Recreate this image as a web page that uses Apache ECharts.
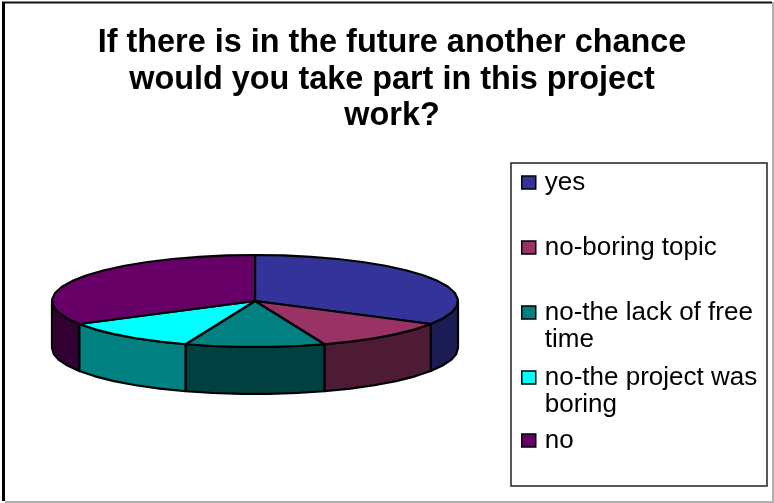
<!DOCTYPE html>
<html>
<head>
<meta charset="utf-8">
<style>html,body{margin:0;padding:0;background:#fff}#chart{width:774px;height:503px}</style>
<script src="https://cdn.jsdelivr.net/npm/echarts@6/dist/echarts.min.js"></script>
</head>
<body>
<div id="chart"></div>
<script>
// Survey answers, one wedge per answer
const categories = ['yes', 'no-boring topic', 'no-the lack of free\ntime', 'no-the project was\nboring', 'no'];
const answerCounts = [3, 1, 1, 1, 3];
const topColors = ['#333399', '#993366', '#008080', '#00FFFF', '#660066'];
const wallColors = ['#1C1C54', '#4D1B33', '#004040', '#008080', '#330033'];
const titleText = 'If there is in the future another chance\nwould you take part in this project\nwork?';

// Tilted disc geometry
const disc = { cx: 255, cy: 301, rx: 203, ry: 46, depth: 47, facet: 8 };
const total = answerCounts.reduce((a, b) => a + b, 0);

// Angles are clockwise from twelve o'clock, in degrees
function rimPoint(deg, drop) {
  const r = deg * Math.PI / 180;
  return [disc.cx + disc.rx * Math.sin(r), disc.cy - disc.ry * Math.cos(r) + drop];
}
function arcPoints(from, to, drop) {
  const pts = [];
  const steps = Math.max(1, Math.round((to - from) / disc.facet));
  for (let i = 0; i <= steps; i++) pts.push(rimPoint(from + (to - from) * i / steps, drop));
  return pts;
}

function wedgeRenderer(index) {
  return function (params, api) {
    const before = answerCounts.slice(0, index).reduce((a, b) => a + b, 0);
    const start = before / total * 360;
    const end = start + api.value(0) / total * 360;
    const stroke = { stroke: '#000', lineWidth: 2.2, lineJoin: 'round' };
    const children = [];
    // Only the part of the rim facing the viewer shows a wall
    const wallFrom = Math.max(start, 90);
    const wallTo = Math.min(end, 270);
    if (wallTo > wallFrom) {
      const upper = arcPoints(wallFrom, wallTo, 0);
      const lower = arcPoints(wallFrom, wallTo, disc.depth).reverse();
      children.push({
        type: 'polygon', z2: 1,
        shape: { points: upper.concat(lower) },
        style: Object.assign({ fill: wallColors[index] }, stroke)
      });
    }
    children.push({
      type: 'polygon', z2: 2,
      shape: { points: [[disc.cx, disc.cy]].concat(arcPoints(start, end, 0)) },
      style: Object.assign({ fill: api.visual('color') }, stroke)
    });
    return { type: 'group', children };
  };
}

const legendTops = [169, 234, 272, 337, 427];

const option = {
  animation: false,
  backgroundColor: '#fff',
  title: {
    text: titleText,
    left: 387, top: 20, textAlign: 'center',
    textStyle: { fontFamily: 'Liberation Sans', fontWeight: 'bold', fontSize: 32.4, lineHeight: 36.5, color: '#000' }
  },
  legend: categories.map((name, i) => ({
    data: [name],
    left: 521, top: legendTops[i],
    orient: 'vertical',
    icon: 'rect', itemWidth: 14, itemHeight: 13, itemGap: 0, padding: 0,
    selectedMode: false,
    itemStyle: { borderColor: '#000', borderWidth: 1.5 },
    textStyle: { fontFamily: 'Liberation Sans', fontSize: 26, lineHeight: 27, color: '#000', padding: [0, 0, 0, 4] },
    // A blank first line keeps the swatch level with the first line of wrapped names
    formatter: n => (n.indexOf('\n') >= 0 ? '\n' + n : n)
  })),
  graphic: [
    { type: 'rect', z: -1, shape: { x: 511, y: 163, width: 256, height: 323 }, style: { fill: '#fff', stroke: '#222', lineWidth: 1.5 } },
    { type: 'line', z: -1, shape: { x1: 2, y1: 2.5, x2: 772, y2: 2.5 }, style: { stroke: '#111', lineWidth: 2 } },
    { type: 'line', z: -1, shape: { x1: 3.5, y1: 2, x2: 3.5, y2: 501 }, style: { stroke: '#000', lineWidth: 3 } },
    { type: 'line', z: -1, shape: { x1: 773, y1: 2, x2: 773, y2: 503 }, style: { stroke: '#b0b0b0', lineWidth: 2 } },
    { type: 'line', z: -1, shape: { x1: 5, y1: 502, x2: 774, y2: 502 }, style: { stroke: '#b0b0b0', lineWidth: 2 } }
  ],
  series: categories.map((name, i) => ({
    type: 'custom',
    name,
    coordinateSystem: 'none',
    colorBy: 'series',
    itemStyle: { color: topColors[i] },
    data: [[answerCounts[i]]],
    renderItem: wedgeRenderer(i),
    silent: true
  }))
};

const chart = echarts.init(document.getElementById('chart'), null, { renderer: 'canvas' });
chart.setOption(option);
</script>
</body>
</html>
